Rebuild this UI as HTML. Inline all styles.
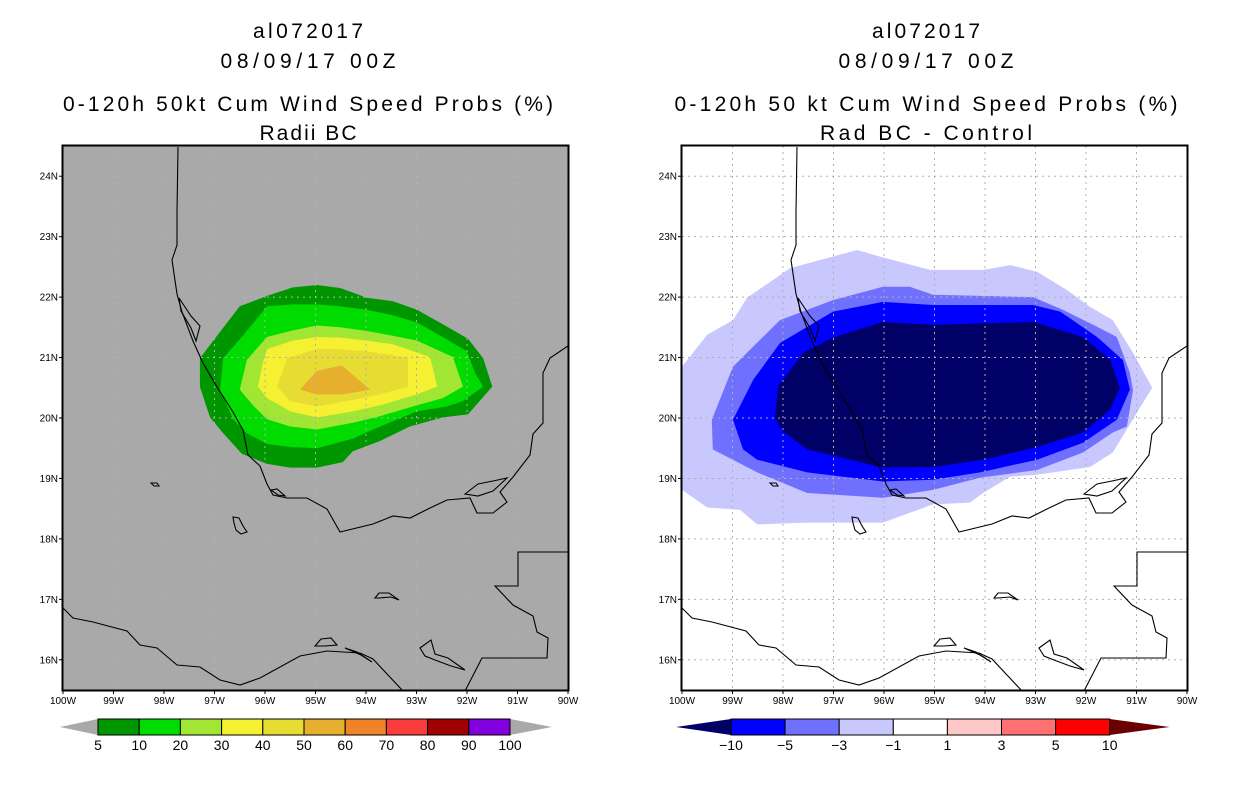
<!DOCTYPE html>
<html><head><meta charset="utf-8">
<style>
html,body{margin:0;padding:0;background:#fff;}
svg{display:block;font-family:"Liberation Sans",sans-serif;}
</style></head>
<body>
<svg id="root" width="1236" height="800" viewBox="0 0 1236 800" xmlns="http://www.w3.org/2000/svg"></svg>
<script>
// ---------- data ----------
const lonTicks = [100,99,98,97,96,95,94,93,92,91,90];
const latTicks = [16,17,18,19,20,21,22,23,24];
const probLevels = ["5","10","20","30","40","50","60","70","80","90","100"];
const probColors = ["#009600","#00dc00","#a0e632","#f5f032","#e6dc32","#e6af2d","#f08228","#fa3c3c","#a00000","#8200dc"];
const diffLevels = ["-10","-5","-3","-1","1","3","5","10"];
const diffColors = ["#0000ff","#7070ff","#c8c8ff","#ffffff","#ffc8c8","#ff7070","#ff0000"];
// probability contours (lonW, lat)
const prob5 = [[96.50,21.85],[95.96,22.02],[95.45,22.16],[94.97,22.20],[94.51,22.15],[93.98,21.99],[93.47,21.93],[92.99,21.79],[92.48,21.55],[91.98,21.31],[91.68,20.99],[91.50,20.52],[91.98,20.06],[92.48,20.01],[93.13,19.86],[93.72,19.62],[94.26,19.45],[94.46,19.27],[94.97,19.18],[95.50,19.18],[95.96,19.24],[96.46,19.41],[96.83,19.75],[97.09,20.01],[97.29,20.52],[97.29,20.99],[96.95,21.36]];
const prob10 = [[95.96,21.85],[95.45,21.88],[94.97,21.88],[94.51,21.85],[93.98,21.79],[93.47,21.70],[92.99,21.58],[92.48,21.34],[92.00,21.10],[91.84,20.74],[91.68,20.52],[92.08,20.28],[92.40,20.19],[92.99,20.11],[93.72,19.86],[94.26,19.66],[94.97,19.50],[95.50,19.52],[95.96,19.57],[96.36,19.75],[96.63,19.98],[96.89,20.46],[96.83,20.99],[96.44,21.36]];
const prob20 = [[95.96,21.34],[95.45,21.45],[94.97,21.53],[94.51,21.50],[93.98,21.44],[93.47,21.36],[92.99,21.28],[92.28,21.01],[92.08,20.52],[92.48,20.33],[92.99,20.21],[93.72,20.03],[94.26,19.92],[94.97,19.81],[95.50,19.86],[95.96,19.98],[96.24,20.21],[96.50,20.47],[96.36,20.96]];
const prob30 = [[95.96,21.14],[95.45,21.28],[94.97,21.34],[94.51,21.33],[93.98,21.28],[93.47,21.22],[92.73,21.01],[92.59,20.52],[92.99,20.39],[93.72,20.21],[94.26,20.11],[94.97,20.01],[95.50,20.11],[95.96,20.33],[96.14,20.52],[96.04,20.92]];
const prob40 = [[95.56,20.99],[94.97,21.14],[94.51,21.14],[93.98,21.10],[93.47,21.04],[93.17,20.99],[93.17,20.52],[93.72,20.39],[94.26,20.30],[94.97,20.19],[95.50,20.28],[95.76,20.52]];
const prob50 = [[94.97,20.78],[94.48,20.87],[93.92,20.47],[94.46,20.39],[94.97,20.39],[95.31,20.47]];
// difference contours (lonW, lat)
const diffM1 = [[100.00,20.85],[99.50,21.38],[98.99,21.62],[98.71,21.99],[97.86,22.48],[96.53,22.78],[96.08,22.67],[95.09,22.45],[94.04,22.45],[93.50,22.53],[92.97,22.42],[92.38,22.12],[91.92,21.84],[91.47,21.62],[91.07,21.08],[90.69,20.50],[90.99,20.09],[91.47,19.43],[91.92,19.19],[92.97,19.06],[93.50,19.03],[94.04,18.76],[94.30,18.60],[95.03,18.57],[96.02,18.27],[97.52,18.27],[98.51,18.24],[98.85,18.48],[99.50,18.52],[100.00,18.81]];
const diffM3 = [[98.99,20.85],[98.06,21.62],[97.01,21.95],[96.02,22.17],[95.49,22.17],[95.03,22.04],[93.05,22.00],[92.46,21.79],[91.78,21.51],[91.39,21.34],[91.13,20.75],[91.07,20.46],[91.19,19.86],[91.47,19.76],[92.06,19.43],[92.97,19.14],[94.10,19.01],[95.03,18.81],[96.02,18.68],[97.52,18.76],[98.51,19.10],[99.39,19.48],[99.41,19.97]];
const diffM5 = [[98.99,19.97],[98.59,20.63],[98.06,21.24],[97.01,21.76],[96.02,21.92],[95.03,21.87],[93.05,21.87],[92.51,21.76],[91.78,21.34],[91.27,20.96],[91.13,20.47],[91.39,19.97],[92.06,19.59],[92.97,19.31],[94.10,19.10],[95.03,18.98],[96.02,18.95],[97.52,19.10],[98.51,19.31],[98.79,19.48]];
const diffM10 = [[98.16,20.00],[98.10,20.52],[97.60,21.08],[97.01,21.33],[96.02,21.59],[95.03,21.54],[93.05,21.59],[92.06,21.34],[91.52,20.96],[91.33,20.50],[91.52,20.14],[92.06,19.76],[92.97,19.52],[94.04,19.31],[95.03,19.19],[96.02,19.18],[97.52,19.48],[97.99,19.77]];

// base map outlines (pixel offsets inside map frame)
const coastMain = [[115,1],[114,66],[114,99],[109,114],[114,148],[119,166],[130,195],[140,217],[154,241],[170,266],[180,284],[185,309],[197,320],[204,338],[210,349],[224,352],[244,352],[264,363],[277,386],[310,378],[330,370],[347,372],[367,362],[384,354],[407,352],[414,367],[430,367],[444,356],[437,346],[450,331],[467,309],[470,288],[480,277],[480,227],[487,212],[505,200]];
const border = [[505,406],[455,406],[455,440],[432,440],[450,459],[470,470],[474,486],[485,492],[484,512],[419,512],[402,545],[400,585]];
const coastSouth = [[0,462],[10,472],[30,476],[64,485],[77,499],[94,502],[114,519],[137,521],[157,534],[177,539],[197,532],[237,510],[264,505],[297,507],[310,513],[340,545],[352,585]];
const lagoonA = [[116,152],[128,170],[137,180],[133,195],[128,182],[118,165]];
const lagoonB = [[208,344],[214,343],[222,350],[215,349]];
const islandA = [[170,371],[176,372],[180,380],[184,386],[178,388],[173,384],[171,377]];
const islandB = [[88,337],[94,337],[96,340],[91,340]];
const lagoonC = [[312,452],[316,447],[326,447],[336,454],[328,451],[316,452]];
const lagoonD = [[252,500],[258,493],[268,492],[274,499],[262,500]];
const lagoonE = [[282,502],[294,506],[309,516],[298,509]];
const lagoonF = [[357,502],[368,494],[372,508],[385,512],[402,524],[388,520],[372,514],[362,510]];
const lagoonG = [[402,348],[415,338],[430,335],[444,332],[430,345],[415,350]];

// ---------- helpers ----------
const NS = "http://www.w3.org/2000/svg";
const root = document.getElementById('root');
const MAP_Y0 = 146, MAP_W = 505, MAP_H = 544;
const PX_DEG_X = MAP_W/10, PX_DEG_Y = MAP_H/9;
function xScale(x0, lonW){ return x0 + (100 - lonW) * PX_DEG_X; }
function yScale(lat){ return MAP_Y0 + (24.5 - lat) * PX_DEG_Y; }
function mk(tag, attrs, parent){
  const e = document.createElementNS(NS, tag);
  for (const k in attrs) e.setAttribute(k, attrs[k]);
  (parent || root).appendChild(e);
  return e;
}
function polyPts(x0, arr){ return arr.map(p => xScale(x0,p[0]).toFixed(1)+','+yScale(p[1]).toFixed(1)).join(' '); }
function offPts(x0, arr){ return arr.map(p => (x0+p[0])+','+(MAP_Y0+p[1])).join(' '); }

function titles(cx, lines, widths, group){
  const ys = [38, 68, 111, 140];
  lines.forEach((t,i)=>{
    const e = mk('text',{x:cx,y:ys[i],'text-anchor':'middle','font-size':'21',fill:'#000',textLength:widths[i],lengthAdjust:'spacing'},group);
    
    
    e.textContent = t;
  });
}

function drawPanel(x0, bg, contours, colors, name){
  const g = mk('g',{});
  
  
  const clipId = name+'-clip';
  const defs = mk('defs',{},g);
  const cp = mk('clipPath',{id:clipId},defs);
  mk('rect',{x:x0,y:MAP_Y0,width:MAP_W,height:MAP_H},cp);
  const bgR = mk('rect',{x:x0,y:MAP_Y0,width:MAP_W,height:MAP_H,fill:bg},g);
  
  
  const cg = mk('g',{'clip-path':'url(#'+clipId+')'},g);
  contours.forEach((c,i)=>{
    const p = mk('polygon',{points:polyPts(x0,c),fill:colors[i]},cg);
    
    
  });
  for (let lon=99; lon>=91; lon--){
    const x = xScale(x0,lon);
    const l = mk('line',{x1:x,y1:MAP_Y0,x2:x,y2:MAP_Y0+MAP_H,stroke:'#b0b0b0','stroke-width':1,'stroke-dasharray':'2,4'},cg);
    
    
  }
  for (let lat=16; lat<=24; lat++){
    const y = yScale(lat);
    const l = mk('line',{x1:x0,y1:y,x2:x0+MAP_W,y2:y,stroke:'#b0b0b0','stroke-width':1,'stroke-dasharray':'2,4'},cg);
    
    
  }
  [coastMain,border,coastSouth,lagoonA,lagoonB,islandA,islandB,lagoonC,lagoonD,lagoonE,lagoonF,lagoonG].forEach((c,i)=>{
    const closed = i>=3;
    const l = mk(closed?'polygon':'polyline',{points:offPts(x0,c),fill:'none',stroke:'#000','stroke-width':1.1},cg);
    
    
  });
  const fr = mk('rect',{x:x0-0.5,y:MAP_Y0-0.5,width:MAP_W+1,height:MAP_H+1,fill:'none',stroke:'#000','stroke-width':2},g);
  
  
  latTicks.forEach(lat=>{
    const y = yScale(lat);
    mk('line',{x1:x0-4,y1:y,x2:x0,y2:y,stroke:'#000','stroke-width':1},g);
    const t = mk('text',{x:x0-5,y:y+3.5,'text-anchor':'end','font-size':'10',fill:'#000'},g);
    
    
    t.textContent = lat+'N';
  });
  lonTicks.forEach(lon=>{
    const x = xScale(x0,lon);
    mk('line',{x1:x,y1:MAP_Y0+MAP_H,x2:x,y2:MAP_Y0+MAP_H+4,stroke:'#000','stroke-width':1},g);
    const t = mk('text',{x:x,y:704,'text-anchor':'middle','font-size':'10',fill:'#000'},g);
    
    
    t.textContent = lon+'W';
  });
  return g;
}

function colorbar(xs, boxW, colors, labels, leftTip, rightTip, tipL, tipR, name){
  const g = mk('g',{});
  
  
  const y0 = 719, y1 = 735, ym = 727;
  const xe = xs + boxW*colors.length;
  const a = mk('polygon',{points:`${xs-tipL},${ym} ${xs},${y0} ${xs},${y1}`,fill:leftTip},g);
  
  
  const b = mk('polygon',{points:`${xe+tipR},${ym} ${xe},${y0} ${xe},${y1}`,fill:rightTip},g);
  
  
  colors.forEach((c,i)=>{
    const r = mk('rect',{x:xs+i*boxW,y:y0,width:boxW,height:y1-y0,fill:c,stroke:'#000','stroke-width':1},g);
    
    
  });
  labels.forEach((l,i)=>{
    const t = mk('text',{x:xs+i*boxW,y:750,'text-anchor':'middle','font-size':'14',fill:'#000'},g);
    
    
    t.textContent = l.replace('-','\u2212');
  });
}

// ---------- draw ----------
const tg = mk('g',{});


titles(308, ['al072017','08/09/17 00Z','0-120h 50kt Cum Wind Speed Probs (%)','Radii BC'], [110,175,490,97], tg);
titles(926, ['al072017','08/09/17 00Z','0-120h 50 kt Cum Wind Speed Probs (%)','Rad BC - Control'], [108,175,503,212], tg);

drawPanel(63, '#a9a9a9', [prob5,prob10,prob20,prob30,prob40,prob50], probColors, 'left-map-panel');
drawPanel(682, '#ffffff', [diffM1,diffM3,diffM5,diffM10], ['#c8c8ff','#7070ff','#0000ff','#000066'], 'right-map-panel');

colorbar(98, 41.2, probColors, probLevels, '#a9a9a9', '#a9a9a9', 38, 42, 'left-colorbar');
colorbar(731, 54.1, diffColors, diffLevels, '#000066', '#6a0000', 55, 60, 'right-colorbar');
</script>
</body></html>
